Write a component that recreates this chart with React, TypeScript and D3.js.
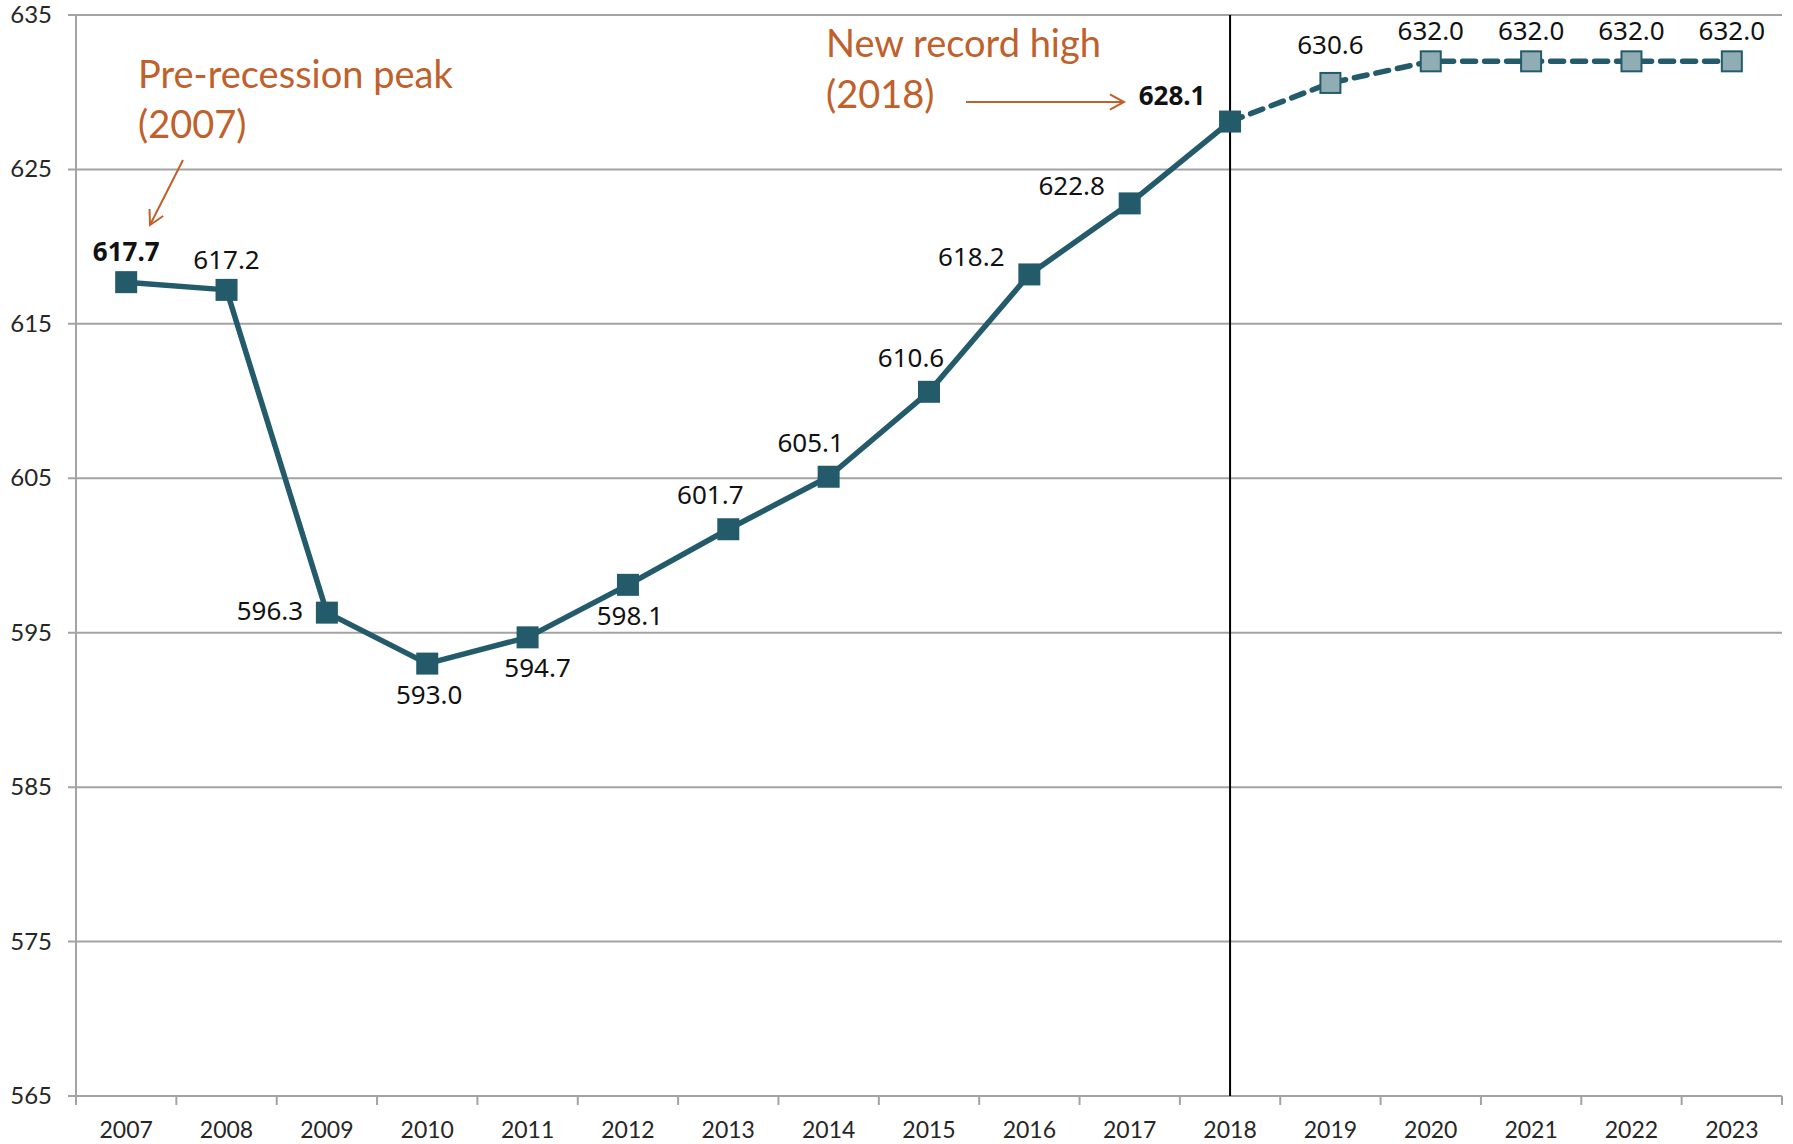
import * as d3 from 'd3';
import { useEffect, useRef } from 'react';

// years on the x axis
const years = [
  '2007', '2008', '2009', '2010', '2011', '2012', '2013', '2014', '2015',
  '2016', '2017', '2018', '2019', '2020', '2021', '2022', '2023',
];

// actual values 2007-2018
const actual = [617.7, 617.2, 596.3, 593.0, 594.7, 598.1, 601.7, 605.1, 610.6, 618.2, 622.8, 628.1];

// forecast values 2018-2023 (starts at the last actual point)
const forecast = [628.1, 630.6, 632.0, 632.0, 632.0, 632.0];

const yTicks = [565, 575, 585, 595, 605, 615, 625, 635];

// where each data label sits relative to its marker
const labelPlacement = [
  'above', 'above', 'left', 'below', 'belowRight', 'below', 'aboveLeft', 'aboveLeft',
  'aboveLeft', 'upLeft', 'upLeft', 'farUpLeft', 'aboveFar', 'above', 'above', 'above', 'above',
];
const boldLabels = ['2007', '2018'];

const App: React.FC = () => {
  const ref = useRef<null | SVGSVGElement>(null);

  useEffect(() => {
    const width = 1793;
    const height = 1144;
    const margin = { top: 15, right: 11, bottom: 48, left: 76 };

    const lineColor = '#235b6a';
    const foreFill = '#90adb4';
    const gridColor = '#a3a3a3';
    const orange = '#c0602b';

    const svg = d3.select(ref.current);
    svg.selectAll('*').remove();
    svg.attr('width', width).attr('height', height);

    const x = d3
      .scaleBand()
      .domain(years)
      .range([margin.left, width - margin.right])
      .padding(0);
    const cx = (yr: string) => (x(yr) as number) + x.bandwidth() / 2;

    const y = d3
      .scaleLinear()
      .domain([565, 635])
      .range([height - margin.bottom, margin.top]);

    // gridlines
    svg
      .append('g')
      .selectAll('line')
      .data(yTicks)
      .join('line')
      .attr('x1', margin.left - 8)
      .attr('x2', width - margin.right)
      .attr('y1', (d) => y(d))
      .attr('y2', (d) => y(d))
      .attr('stroke', gridColor)
      .attr('stroke-width', 2);

    // y axis line
    svg
      .append('line')
      .attr('x1', margin.left)
      .attr('x2', margin.left)
      .attr('y1', y(635))
      .attr('y2', y(565))
      .attr('stroke', gridColor)
      .attr('stroke-width', 2);

    // y tick labels
    svg
      .append('g')
      .selectAll('text')
      .data(yTicks)
      .join('text')
      .attr('x', margin.left - 24)
      .attr('y', (d) => y(d) + 8)
      .attr('text-anchor', 'end')
      .attr('font-family', 'Lato, sans-serif')
      .attr('font-size', 24)
      .attr('fill', '#262626')
      .text((d) => d);

    // x tick marks at band edges
    const edges = years.map((yr) => x(yr) as number).concat([width - margin.right]);
    svg
      .append('g')
      .selectAll('line')
      .data(edges)
      .join('line')
      .attr('x1', (d) => d)
      .attr('x2', (d) => d)
      .attr('y1', y(565))
      .attr('y2', y(565) + 9)
      .attr('stroke', gridColor)
      .attr('stroke-width', 2);

    // x tick labels
    svg
      .append('g')
      .selectAll('text')
      .data(years)
      .join('text')
      .attr('x', (d) => cx(d))
      .attr('y', y(565) + 42)
      .attr('text-anchor', 'middle')
      .attr('font-family', 'Lato, sans-serif')
      .attr('font-size', 23)
      .attr('fill', '#262626')
      .text((d) => d);

    // vertical divider at 2018
    svg
      .append('line')
      .attr('x1', cx('2018'))
      .attr('x2', cx('2018'))
      .attr('y1', y(635))
      .attr('y2', y(565))
      .attr('stroke', '#000')
      .attr('stroke-width', 2);

    const actualPts = actual.map((v, i) => ({ yr: years[i], v }));
    const forePts = forecast.map((v, i) => ({ yr: years[i + actual.length - 1], v }));

    const line = d3
      .line<{ yr: string; v: number }>()
      .x((d) => cx(d.yr))
      .y((d) => y(d.v));

    svg
      .append('path')
      .datum(forePts)
      .attr('d', line)
      .attr('fill', 'none')
      .attr('stroke', lineColor)
      .attr('stroke-width', 5.5)
      .attr('stroke-dasharray', '13 9')
      .attr('stroke-linecap', 'round');

    svg
      .append('path')
      .datum(actualPts)
      .attr('d', line)
      .attr('fill', 'none')
      .attr('stroke', lineColor)
      .attr('stroke-width', 5.5)
      .attr('stroke-linejoin', 'round');

    const sq = 20;
    // forecast markers (skip the shared 2018 point)
    svg
      .append('g')
      .selectAll('rect')
      .data(forePts.slice(1))
      .join('rect')
      .attr('x', (d) => cx(d.yr) - sq / 2)
      .attr('y', (d) => y(d.v) - sq / 2)
      .attr('width', sq)
      .attr('height', sq)
      .attr('fill', foreFill)
      .attr('stroke', lineColor)
      .attr('stroke-width', 2);

    svg
      .append('g')
      .selectAll('rect')
      .data(actualPts)
      .join('rect')
      .attr('x', (d) => cx(d.yr) - (sq + 2) / 2)
      .attr('y', (d) => y(d.v) - (sq + 2) / 2)
      .attr('width', sq + 2)
      .attr('height', sq + 2)
      .attr('fill', lineColor);

    // data labels
    const offsets: Record<string, [number, number]> = {
      above: [0, -21],
      aboveFar: [0, -29],
      aboveLeft: [-18, -25],
      upLeft: [-58, -8],
      farUpLeft: [-58, -17],
      left: [-57, 7],
      below: [2, 40],
      belowRight: [10, 40],
    };
    const allPts = actualPts.concat(forePts.slice(1));
    svg
      .append('g')
      .selectAll('text')
      .data(allPts)
      .join('text')
      .attr('x', (d, i) => cx(d.yr) + offsets[labelPlacement[i]][0])
      .attr('y', (d, i) => y(d.v) + offsets[labelPlacement[i]][1])
      .attr('text-anchor', 'middle')
      .attr('font-family', '"Noto Sans", sans-serif')
      .attr('font-size', 26)
      .attr('font-weight', (d) => (boldLabels.includes(d.yr) ? 700 : 400))
      .attr('fill', '#111')
      .text((d) => d.v.toFixed(1));

    // annotations
    const note = svg
      .append('g')
      .attr('font-family', 'Lato, sans-serif')
      .attr('font-size', 38)
      .attr('fill', orange);
    note.append('text').attr('x', 138).attr('y', 88).text('Pre-recession peak');
    note.append('text').attr('x', 138).attr('y', 138).text('(2007)');
    note.append('text').attr('x', 826).attr('y', 57).text('New record high');
    note.append('text').attr('x', 826).attr('y', 108).text('(2018)');

    const arrow = (x1: number, y1: number, x2: number, y2: number) => {
      const ang = Math.atan2(y2 - y1, x2 - x1);
      const h = 16;
      const g = svg
        .append('g')
        .attr('stroke', orange)
        .attr('stroke-width', 2)
        .attr('fill', 'none');
      g.append('line').attr('x1', x1).attr('y1', y1).attr('x2', x2).attr('y2', y2);
      g.append('path').attr(
        'd',
        `M${x2 - h * Math.cos(ang - 0.5)},${y2 - h * Math.sin(ang - 0.5)}L${x2},${y2}L${
          x2 - h * Math.cos(ang + 0.5)
        },${y2 - h * Math.sin(ang + 0.5)}`
      );
    };
    arrow(183, 160, 150, 225);
    arrow(966, 102, 1124, 102);
  }, []);

  return (
    <svg
      ref={ref}
      style={{ position: 'absolute', left: 0, top: 0, background: '#fff' }}
    />
  );
};

export default App;
